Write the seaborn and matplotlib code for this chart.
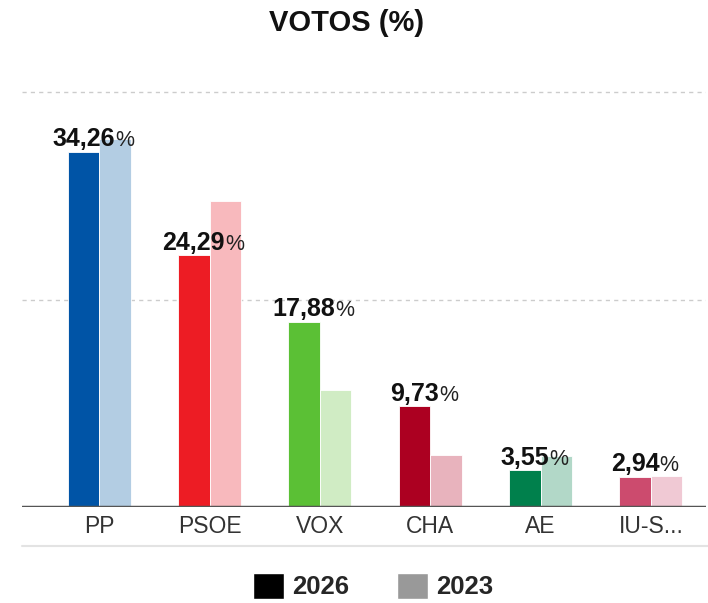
import pandas as pd
import seaborn as sns
import matplotlib.pyplot as plt
from matplotlib.patches import Patch
from matplotlib.lines import Line2D

# data
parties = ['PP', 'PSOE', 'VOX', 'CHA', 'AE', 'IU-S...']
votes_2026 = [34.26, 24.29, 17.88, 9.73, 3.55, 2.94]
votes_2023 = [35.5, 29.5, 11.3, 5.0, 4.9, 3.0]
years = ['2026', '2023']

dark_colors = ['#0054a6', '#ed1c24', '#5bc035', '#ac0021', '#00804c', '#cc4b6e']
light_colors = ['#b3cde3', '#f8b9bd', '#d0ecc4', '#e8b3bd', '#b2d8c8', '#f0c9d4']

df = pd.DataFrame({
    'Partido': parties * 2,
    'Año': [years[0]] * len(parties) + [years[1]] * len(parties),
    'Votos': votes_2026 + votes_2023,
})

sns.set_theme(style='white')
plt.rcParams['font.family'] = ['Liberation Sans', 'DejaVu Sans']

fig = plt.figure(figsize=(7.08, 6.03), dpi=100)
ax = fig.add_axes([22 / 708, 96 / 603, 684 / 708, 435.5 / 603])

sns.barplot(data=df, x='Partido', y='Votos', hue='Año', hue_order=years,
            order=parties, width=0.57, ax=ax, legend=False,
            edgecolor='white', linewidth=0.6)

# recolour each bar with its party colour
for bar, c in zip(ax.containers[0], dark_colors):
    bar.set_facecolor(c)
for bar, c in zip(ax.containers[1], light_colors):
    bar.set_facecolor(c)

ax.set_ylim(0, 42)
ax.set_xlim(-0.7, 5.5)
for s in ax.spines.values():
    s.set_visible(False)
ax.set_yticks([20, 40])
ax.set_yticklabels([])
ax.tick_params(axis='y', length=0)
ax.yaxis.grid(True, linestyle=(0, (3, 3)), color='#cccccc', linewidth=1)
ax.set_axisbelow(True)
ax.axhline(0, color='#555555', lw=2.5, zorder=5)
ax.set_xlabel('')
ax.set_ylabel('')
ax.tick_params(axis='x', length=0, labelsize=16.5, labelcolor='#333333', pad=6)

# value labels on the 2026 bars: bold number centred, '%' appended
for bar, v in zip(ax.containers[0], votes_2026):
    x = bar.get_x() + bar.get_width() / 2
    num = ax.annotate(f'{v:.2f}'.replace('.', ','), (x, v), xytext=(0, 4),
                      textcoords='offset points', ha='center', va='baseline',
                      fontsize=18, fontweight='bold', color='#111111', zorder=6)
    ax.annotate('%', xy=(1, 0), xycoords=num, ha='left', va='bottom',
                fontsize=15.5, color='#222222', zorder=6)

fig.text(0.489, 1 - 23 / 603, 'VOTOS (%)', ha='center', va='center',
         fontsize=21, fontweight='bold', color='#111111')

fig.add_artist(Line2D([22 / 708, 1], [1 - 546 / 603] * 2, color='#e3e3e3',
                      lw=1.5, transform=fig.transFigure))

handles = [Patch(facecolor='#000000'), Patch(facecolor='#999999')]
fig.legend(handles, years, loc='center', bbox_to_anchor=(0.527, 1 - 586 / 603),
           ncol=2, frameon=False, prop={'weight': 'bold', 'size': 18.5},
           handlelength=1.2, handleheight=1.2, handletextpad=0.3,
           columnspacing=1.9)

fig.savefig('out.png', dpi=100)
